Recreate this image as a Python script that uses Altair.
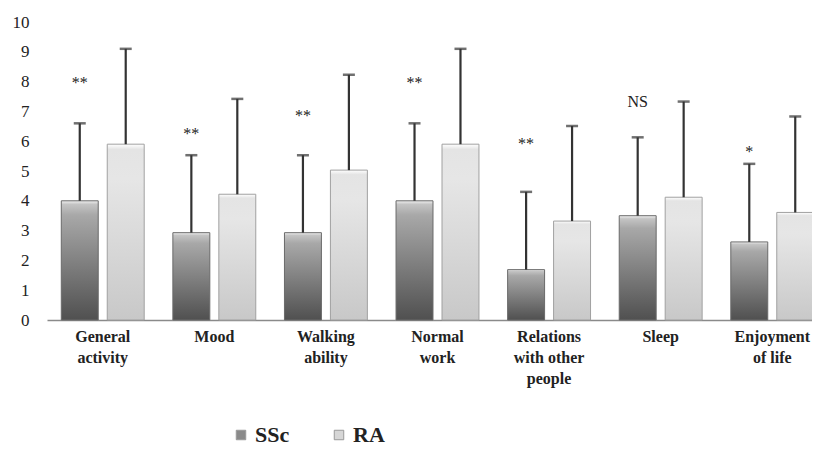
import altair as alt
import pandas as pd

# ---- data ----
cat_lines = [["General", "activity"], ["Mood"], ["Walking", "ability"], ["Normal", "work"],
             ["Relations", "with other", "people"], ["Sleep"], ["Enjoyment", "of life"]]
cats = [" ".join(l) for l in cat_lines]
series = ["SSc", "RA"]
ssc_mean = [4.0, 2.93, 2.93, 4.0, 1.69, 3.5, 2.62]
ssc_top = [6.6, 5.53, 5.53, 6.6, 4.3, 6.13, 5.24]
ra_mean = [5.9, 4.22, 5.03, 5.9, 3.32, 4.12, 3.61]
ra_top = [9.1, 7.42, 8.23, 9.1, 6.51, 7.33, 6.83]
sig = ["**", "**", "**", "**", "**", "NS", "*"]
sig_y = [7.95, 6.25, 6.85, 7.95, 5.9, 7.3, 5.65]
y_ticks = list(range(0, 11))

rows = []
for i, c in enumerate(cats):
    rows.append({"cat": c, "series": "SSc", "mean": ssc_mean[i], "top": ssc_top[i]})
    rows.append({"cat": c, "series": "RA", "mean": ra_mean[i], "top": ra_top[i]})
df = pd.DataFrame(rows)
ann = pd.DataFrame({"cat": cats, "series": ["SSc"] * len(cats), "sig": sig, "y": sig_y})

FONT = "Liberation Serif"

# multi-line labels
parts = []
for c, l in zip(cats, cat_lines):
    arr = "[" + ",".join("'" + s + "'" for s in l) + "]"
    parts.append(f"datum.label == '{c}' ? {arr}")
label_expr = " : ".join(parts) + " : datum.label"

x_enc = alt.X("cat:N", sort=cats,
              scale=alt.Scale(range=[0, 781], paddingInner=0.257, paddingOuter=0.128),
              axis=alt.Axis(title=None, labelAngle=0, ticks=False, labelFont=FONT,
                            labelFontWeight="bold", labelFontSize=16, labelColor="#222",
                            labelPadding=8, labelLineHeight=21, labelExpr=label_expr,
                            labelLimit=200, domainColor="#8a8a8a", domainWidth=1.5))
xo_enc = alt.XOffset("series:N", sort=series,
                     scale=alt.Scale(paddingInner=0.196, paddingOuter=0))
y_scale = alt.Scale(domain=[0, 10], nice=False)
y_axis = alt.Axis(title=None, values=y_ticks, grid=False, domain=False, ticks=False,
                  labelOverlap=False, labelFont=FONT, labelFontSize=17,
                  labelColor="#222", labelPadding=18)
y_enc = alt.Y("mean:Q", scale=y_scale, axis=y_axis)

base = alt.Chart(df)

grad_ssc = alt.LinearGradient(gradient="linear", x1=0, y1=0, x2=0, y2=1, stops=[
    alt.GradientStop(color="#f2f2f2", offset=0),
    alt.GradientStop(color="#c4c4c4", offset=0.03),
    alt.GradientStop(color="#a8a8a8", offset=0.12),
    alt.GradientStop(color="#505050", offset=1)])
grad_ra = alt.LinearGradient(gradient="linear", x1=0, y1=0, x2=0, y2=1, stops=[
    alt.GradientStop(color="#ffffff", offset=0),
    alt.GradientStop(color="#e4e4e4", offset=0.03),
    alt.GradientStop(color="#e6e6e6", offset=0.2),
    alt.GradientStop(color="#c8c8c8", offset=1)])

bars_ssc = base.transform_filter(alt.datum.series == "SSc").mark_bar(
    fill=grad_ssc, stroke="#6a6a6a", strokeWidth=1).encode(x=x_enc, xOffset=xo_enc, y=y_enc)
bars_ra = base.transform_filter(alt.datum.series == "RA").mark_bar(
    fill=grad_ra, stroke="#a0a0a0", strokeWidth=1).encode(x=x_enc, xOffset=xo_enc, y=y_enc)

err = base.mark_rule(color="#333", strokeWidth=2.2).encode(
    x=x_enc, xOffset=xo_enc, y=y_enc, y2="top:Q")
caps = base.mark_tick(color="#333", thickness=2.5, size=12, orient="horizontal").encode(
    x=x_enc, xOffset=xo_enc, y=alt.Y("top:Q", scale=y_scale, axis=y_axis))

legend_layer = base.mark_square(opacity=0, size=80).encode(
    x=x_enc, xOffset=xo_enc, y=y_enc,
    color=alt.Color("series:N", sort=series,
                    scale=alt.Scale(domain=series, range=["#8a8a8a", "#d6d6d6"]),
                    legend=alt.Legend(title=None, orient="none", direction="horizontal",
                                      legendX=183, legendY=402, symbolType="square",
                                      symbolSize=90, symbolOpacity=1, symbolStrokeColor="#999",
                                      symbolStrokeWidth=1, labelFont=FONT, labelFontSize=22,
                                      labelFontWeight="bold", labelColor="#222",
                                      columnPadding=38, labelOffset=3)))

texts = alt.Chart(ann).mark_text(font=FONT, fontSize=16, color="#222", baseline="middle").encode(
    x=x_enc, xOffset=xo_enc, y=alt.Y("y:Q", scale=y_scale, axis=y_axis), text="sig:N")

chart = alt.layer(bars_ssc, bars_ra, err, caps, texts, legend_layer).properties(
    width=765, height=298, autosize="none",
    padding={"left": 39, "top": 14, "right": 0, "bottom": 128},
    background="white"
).configure_view(stroke=None).configure_axisY(
    labelFont=FONT, labelFontSize=17, labelColor="#222", labelPadding=18,
    grid=False, domain=False, ticks=False, labelOverlap=False)

chart.save("out.html", embed_options={"renderer": "svg", "actions": False})
